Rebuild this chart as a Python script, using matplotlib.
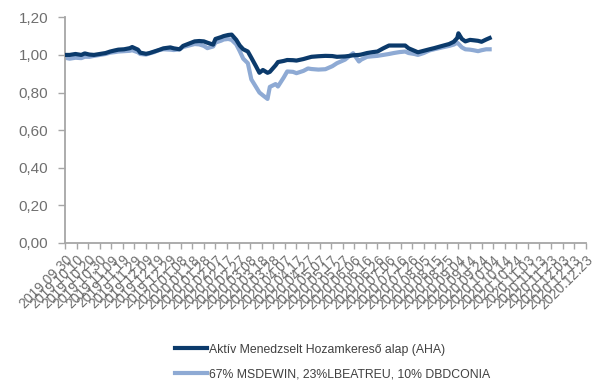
import matplotlib
matplotlib.use("Agg")
import matplotlib.pyplot as plt
import pandas as pd

plt.rcParams['font.family'] = ['Liberation Sans', 'DejaVu Sans']

dates = [
    "2019-09-30", "2019-10-04", "2019-10-09", "2019-10-14", "2019-10-17", "2019-10-21",
    "2019-10-25", "2019-10-30", "2019-11-04", "2019-11-08", "2019-11-12", "2019-11-15",
    "2019-11-20", "2019-11-25", "2019-11-27", "2019-12-02", "2019-12-04", "2019-12-09",
    "2019-12-12", "2019-12-16", "2019-12-20", "2019-12-24", "2019-12-30", "2020-01-02",
    "2020-01-07", "2020-01-10", "2020-01-15", "2020-01-20", "2020-01-24", "2020-01-28",
    "2020-01-31", "2020-02-05", "2020-02-07", "2020-02-12", "2020-02-14", "2020-02-18",
    "2020-02-21", "2020-02-25", "2020-02-28", "2020-03-02", "2020-03-06", "2020-03-09",
    "2020-03-13", "2020-03-16", "2020-03-19", "2020-03-23", "2020-03-25", "2020-03-30",
    "2020-04-01", "2020-04-06", "2020-04-09", "2020-04-14", "2020-04-17", "2020-04-23",
    "2020-04-27", "2020-04-30", "2020-05-06", "2020-05-12", "2020-05-18", "2020-05-22",
    "2020-05-29", "2020-06-02", "2020-06-05", "2020-06-10", "2020-06-12", "2020-06-17",
    "2020-06-22", "2020-06-26", "2020-07-01", "2020-07-06", "2020-07-10", "2020-07-15",
    "2020-07-20", "2020-07-23", "2020-07-28", "2020-07-31", "2020-08-05", "2020-08-10",
    "2020-08-14", "2020-08-21", "2020-08-27", "2020-08-31", "2020-09-03", "2020-09-04",
    "2020-09-07", "2020-09-10", "2020-09-14", "2020-09-17", "2020-09-21", "2020-09-24",
    "2020-09-28", "2020-10-01",
]

aha = [
    1.000, 1.000, 1.005, 1.000, 1.008, 1.002, 1.000, 1.005, 1.010, 1.018, 1.024, 1.028,
    1.030, 1.036, 1.042, 1.028, 1.012, 1.006, 1.010, 1.018, 1.026, 1.035, 1.040, 1.035,
    1.030, 1.048, 1.060, 1.072, 1.074, 1.072, 1.065, 1.055, 1.085, 1.095, 1.100, 1.106,
    1.108, 1.080, 1.050, 1.030, 1.018, 0.985, 0.940, 0.905, 0.920, 0.905, 0.910, 0.945,
    0.962, 0.968, 0.973, 0.972, 0.970, 0.978, 0.985, 0.990, 0.993, 0.995, 0.994, 0.990,
    0.992, 0.995, 0.998, 1.000, 1.002, 1.010, 1.015, 1.018, 1.035, 1.050, 1.050, 1.050,
    1.050, 1.035, 1.022, 1.014, 1.022, 1.030, 1.036, 1.048, 1.058, 1.070, 1.090, 1.115,
    1.085, 1.072, 1.080, 1.078, 1.075, 1.070, 1.082, 1.090,
]

benchmark = [
    0.985, 0.980, 0.985, 0.983, 0.990, 0.990, 0.995, 1.000, 1.005, 1.012, 1.015, 1.018,
    1.020, 1.022, 1.025, 1.014, 1.005, 1.002, 1.008, 1.015, 1.025, 1.030, 1.028, 1.026,
    1.030, 1.042, 1.050, 1.058, 1.056, 1.048, 1.036, 1.045, 1.066, 1.076, 1.082, 1.085,
    1.080, 1.056, 1.020, 0.980, 0.956, 0.870, 0.830, 0.800, 0.785, 0.766, 0.830, 0.845,
    0.832, 0.880, 0.912, 0.910, 0.903, 0.915, 0.928, 0.925, 0.922, 0.924, 0.940, 0.956,
    0.975, 0.995, 1.009, 0.965, 0.975, 0.990, 0.993, 0.995, 1.000, 1.005, 1.010, 1.015,
    1.018, 1.010, 1.005, 1.000, 1.010, 1.024, 1.030, 1.040, 1.048, 1.055, 1.065, 1.060,
    1.040, 1.030, 1.028, 1.025, 1.020, 1.025, 1.030, 1.030,
]

series_names = [
    "Aktív Menedzselt Hozamkereső alap (AHA)",
    "67% MSDEWIN, 23%LBEATREU, 10% DBDCONIA",
]

axis_start = "2019-09-30"
axis_end = "2020-12-23"
tick_step_days = 10
y_ticks = [0.0, 0.2, 0.4, 0.6, 0.8, 1.0, 1.2]

dark = "#0b3a6b"
light = "#8eaad4"
grey = "#a6a6a6"
label_grey = "#6f6f6f"

x = pd.to_datetime(dates)

fig = plt.figure(figsize=(5.97, 3.85), dpi=100)
ax = fig.add_axes([0.109, 0.369, 0.872, 0.586])

l1, = ax.plot(x, aha, color=dark, lw=3.0, zorder=3, solid_joinstyle="round")
l2, = ax.plot(x, benchmark, color=light, lw=3.0, zorder=2, solid_joinstyle="round")

ax.set_ylim(0, 1.2)
ax.set_yticks(y_ticks)
ax.set_yticklabels([f"{v:.2f}".replace(".", ",") for v in y_ticks])

start = pd.Timestamp(axis_start)
end = pd.Timestamp(axis_end)
ticks = pd.date_range(start, end, freq=f"{tick_step_days}D")
ax.set_xlim(start, end)
ax.set_xticks(ticks)
ax.set_xticklabels([t.strftime("%Y.%m.%d") for t in ticks],
                   rotation=45, ha="right", rotation_mode="anchor")

for side in ("top", "right"):
    ax.spines[side].set_visible(False)
for side in ("left", "bottom"):
    ax.spines[side].set_color(grey)
    ax.spines[side].set_linewidth(1.3)

ax.tick_params(axis="y", colors=grey, labelcolor=label_grey, labelsize=11,
               length=5, width=1.0, pad=7)
ax.tick_params(axis="x", colors=grey, labelcolor=label_grey, labelsize=10,
               length=4, width=1.0, pad=3)

fig.legend([l1, l2], series_names, loc="upper left",
           bbox_to_anchor=(0.285, 0.12), frameon=False, ncol=1,
           fontsize=8.8, handlelength=2.6, handletextpad=0.15,
           labelspacing=1.05, labelcolor="#404040", borderaxespad=0)

fig.savefig("out.png", dpi=100)
